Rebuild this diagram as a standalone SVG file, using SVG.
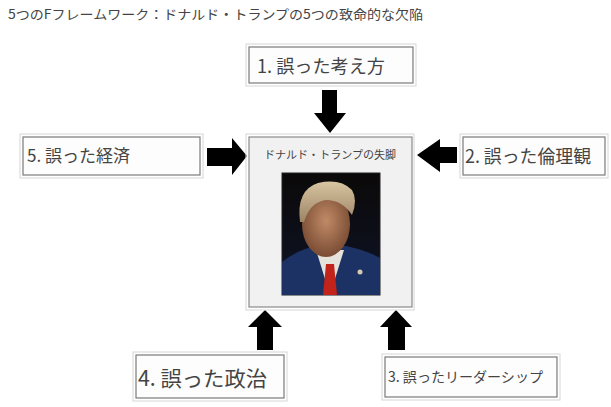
<svg xmlns="http://www.w3.org/2000/svg" width="611" height="407" viewBox="0 0 611 407">
<defs>
<style>
.t{font-family:"Noto Sans CJK JP","Noto Sans",sans-serif;fill:#444}
.box{fill:#fdfdfd;stroke:#7a7a7a;stroke-width:1.2}
.outer{fill:none;stroke:#d6d6d6;stroke-width:1}
.arrow{fill:#000}
</style>
<linearGradient id="bg" x1="0" y1="0" x2="0" y2="1">
<stop offset="0" stop-color="#0b0908"/>
<stop offset="1" stop-color="#0e1428"/>
</linearGradient>
<radialGradient id="face" cx="0.5" cy="0.45" r="0.55">
<stop offset="0" stop-color="#c08a66"/>
<stop offset="1" stop-color="#7a4c34"/>
</radialGradient>
<linearGradient id="hair" x1="0" y1="0" x2="0" y2="1">
<stop offset="0" stop-color="#d8c4a0"/>
<stop offset="1" stop-color="#9c8466"/>
</linearGradient>
</defs>
<rect width="611" height="407" fill="#ffffff"/>
<text class="t" x="8" y="19" font-size="13" textLength="415" lengthAdjust="spacingAndGlyphs">5つのFフレームワーク：ドナルド・トランプの5つの致命的な欠陥</text>

<g id="connectors">
<polygon class="arrow" points="322,90 337,90 337,113 346,113 330,133 314,113 322,113"/>
<polygon class="arrow" points="207,148 232,148 232,138 247,156 232,175 232,166 207,166"/>
<polygon class="arrow" points="457,147 440,147 440,139 417,155 440,172 440,163 457,163"/>
<polygon class="arrow" points="257,350 257,327 248,327 265,310 282,327 273,327 273,350"/>
<polygon class="arrow" points="388,350 388,327 380,327 396,310 412,327 405,327 405,350"/>
</g>

<g id="node1">
<rect class="outer" x="246" y="44" width="170" height="42"/>
<rect class="box" x="249" y="47" width="164" height="36"/>
<text class="t" x="257" y="73" font-size="18" textLength="128" lengthAdjust="spacingAndGlyphs">1. 誤った考え方</text>
</g>

<g id="node5">
<rect class="outer" x="20" y="134" width="183" height="44"/>
<rect class="box" x="23" y="137" width="177" height="38"/>
<text class="t" x="27" y="162" font-size="17" textLength="103" lengthAdjust="spacingAndGlyphs">5. 誤った経済</text>
</g>

<g id="node2">
<rect class="outer" x="460" y="134" width="148" height="44"/>
<rect class="box" x="463" y="137" width="142" height="38"/>
<text class="t" x="465" y="163" font-size="18" textLength="126" lengthAdjust="spacingAndGlyphs">2. 誤った倫理観</text>
</g>

<g id="center">
<rect class="outer" x="246" y="134" width="168" height="176"/>
<rect x="249" y="137" width="163" height="170" fill="#f1f1f1" stroke="#8a8a8a" stroke-width="1.2"/>
<text class="t" x="330" y="159" font-size="11" text-anchor="middle" textLength="132" lengthAdjust="spacingAndGlyphs">ドナルド・トランプの失脚</text>
<g id="photo">
<rect x="282" y="173" width="98" height="122" fill="url(#bg)" stroke="#222" stroke-width="1"/>
<path d="M282,295 L282,262 Q300,248 318,246 L346,246 Q366,250 380,258 L380,295 Z" fill="#1d3264"/>
<path d="M316,250 L330,295 L344,250 Z" fill="#e6e3dc"/>
<path d="M326,264 L334,264 L337,295 L323,295 Z" fill="#c2231a"/>
<ellipse cx="326" cy="224" rx="24" ry="33" fill="url(#face)"/>
<path d="M300,222 Q296,190 318,183 Q340,178 352,190 Q358,200 352,215 Q342,200 326,200 Q310,202 304,222 Z" fill="url(#hair)"/>
<circle cx="360" cy="272" r="2.5" fill="#d8c8b0"/>
</g>
</g>

<g id="node4">
<rect class="outer" x="133" y="352" width="154" height="49"/>
<rect class="box" x="136" y="355" width="148" height="43"/>
<text class="t" x="138" y="386" font-size="21" textLength="129" lengthAdjust="spacingAndGlyphs">4. 誤った政治</text>
</g>

<g id="node3">
<rect class="outer" x="382" y="354" width="178" height="46"/>
<rect class="box" x="385" y="357" width="172" height="40"/>
<text class="t" x="388" y="382" font-size="14" textLength="155" lengthAdjust="spacingAndGlyphs">3. 誤ったリーダーシップ</text>
</g>
</svg>
